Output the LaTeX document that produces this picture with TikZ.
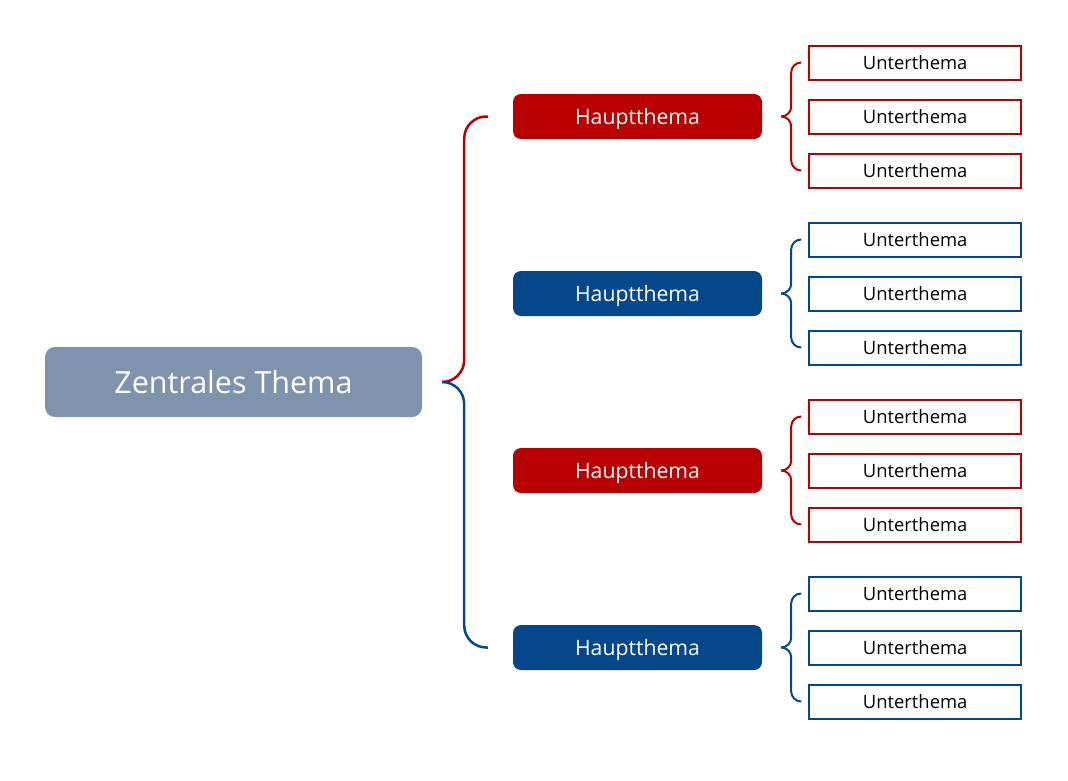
\documentclass[tikz,border=0pt]{standalone}
\usepackage{fontspec}
\setmainfont{Open Sans}
\usepackage{xcolor}
\usetikzlibrary{positioning}

\definecolor{zgray}{HTML}{8093AC}
\definecolor{hred}{HTML}{B80000}
\definecolor{hblue}{HTML}{04478A}

\begin{document}
\begin{tikzpicture}[
    x=1pt, y=-1pt,
    central/.style={rectangle, rounded corners=10pt, fill=zgray, text=white, minimum width=377pt, minimum height=70pt, inner sep=0pt, text depth=0pt, font=\fontsize{30.5}{36}\selectfont},
    haupt/.style={rectangle, rounded corners=8pt, text=white, minimum width=249pt, minimum height=45pt, inner sep=0pt, text depth=0pt, font=\fontsize{21.2}{25}\selectfont},
    unter/.style={rectangle, draw, line width=2pt, fill=white, text=black, minimum width=212pt, minimum height=34pt, inner sep=0pt, text depth=0pt, font=\fontsize{18.4}{22}\selectfont},
    mainlink/.style={line width=2.5pt, rounded corners=22pt},
    sublink/.style={line width=2pt, rounded corners=10pt}
]
\useasboundingbox (0,0) rectangle (1068,780);

\node[central] (zt) at (233.5,382) {Zentrales Thema};

\node[haupt, fill=hred] (h1) at (637.5,116.5) {Hauptthema};
\node[haupt, fill=hblue] (h2) at (637.5,293.5) {Hauptthema};
\node[haupt, fill=hred] (h3) at (637.5,470.5) {Hauptthema};
\node[haupt, fill=hblue] (h4) at (637.5,647.5) {Hauptthema};

% Unterthemen
\node[unter, draw=hred, right=46pt of h1] (u12) {Unterthema};
\node[unter, draw=hred, above=18pt of u12] (u11) {Unterthema};
\node[unter, draw=hred, below=18pt of u12] (u13) {Unterthema};
\node[unter, draw=hblue, right=46pt of h2] (u22) {Unterthema};
\node[unter, draw=hblue, above=18pt of u22] (u21) {Unterthema};
\node[unter, draw=hblue, below=18pt of u22] (u23) {Unterthema};
\node[unter, draw=hred, right=46pt of h3] (u32) {Unterthema};
\node[unter, draw=hred, above=18pt of u32] (u31) {Unterthema};
\node[unter, draw=hred, below=18pt of u32] (u33) {Unterthema};
\node[unter, draw=hblue, right=46pt of h4] (u42) {Unterthema};
\node[unter, draw=hblue, above=18pt of u42] (u41) {Unterthema};
\node[unter, draw=hblue, below=18pt of u42] (u43) {Unterthema};

% Hauptklammer
\draw[mainlink, hred] ([xshift=20pt]zt.east) -- ++(22,0) |- ([xshift=-25pt]h1.west);
\draw[mainlink, hblue] ([xshift=20pt]zt.east) -- ++(22,0) |- ([xshift=-25pt]h4.west);

% Unterklammern
\draw[sublink, hred] ([xshift=19pt]h1.east) -- ++(10,0) |- ([xshift=-7pt]u11.west);
\draw[sublink, hred] ([xshift=19pt]h1.east) -- ++(10,0) |- ([xshift=-7pt]u13.west);
\draw[sublink, hblue] ([xshift=19pt]h2.east) -- ++(10,0) |- ([xshift=-7pt]u21.west);
\draw[sublink, hblue] ([xshift=19pt]h2.east) -- ++(10,0) |- ([xshift=-7pt]u23.west);
\draw[sublink, hred] ([xshift=19pt]h3.east) -- ++(10,0) |- ([xshift=-7pt]u31.west);
\draw[sublink, hred] ([xshift=19pt]h3.east) -- ++(10,0) |- ([xshift=-7pt]u33.west);
\draw[sublink, hblue] ([xshift=19pt]h4.east) -- ++(10,0) |- ([xshift=-7pt]u41.west);
\draw[sublink, hblue] ([xshift=19pt]h4.east) -- ++(10,0) |- ([xshift=-7pt]u43.west);
\end{tikzpicture}
\end{document}
